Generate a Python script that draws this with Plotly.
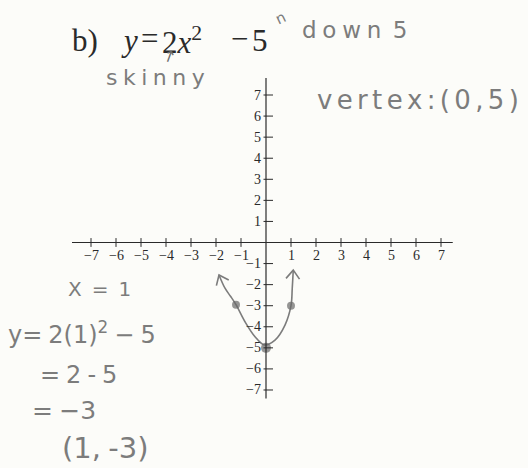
import math
import plotly.graph_objects as go

W, H = 528, 468

# Axis ticks and labels
x_ticks = [-7, -6, -5, -4, -3, -2, -1, 1, 2, 3, 4, 5, 6, 7]
y_ticks = [-7, -6, -5, -4, -3, -2, -1, 1, 2, 3, 4, 5, 6, 7]
x_tick_labels = ["−7", "−6", "−5", "−4", "−3", "−2", "−1", "1", "2", "3", "4", "5", "6", "7"]
y_tick_labels = ["−7", "−6", "−5", "−4", "−3", "−2", "−1", "1", "2", "3", "4", "5", "6", "7"]

# Sketched parabola y = 2x^2 - 5 (points along the hand-drawn curve)
curve_x = [-1.88, -1.64, -1.42, -1.2, -0.84, -0.44, -0.07, 0.36, 0.76, 1.0, 1.05, 1.09]
curve_y = [-1.54, -2.17, -2.55, -2.95, -3.76, -4.47, -4.86, -4.63, -3.92, -3.0, -2.17, -1.31]

# Plotted points
point_x = [-1.2, 0, 1]
point_y = [-2.95, -5, -3]

# Pixel mapping: origin and scale of the drawn axes
X0, Y0 = 266.0, 242.5
SX, SY = 25.0, 21.07
x_range = [-X0 / SX, (W - X0) / SX]
y_range = [-(H - Y0) / SY, Y0 / SY]

INK = "#2a2a2a"
PENCIL = "#7c7c7c"
SERIF = "Liberation Serif"
HAND = "DejaVu Sans"


def px(x):
    return x / W


def py(y):
    return 1 - y / H


def spaced(s, sp="\u2009"):
    return sp.join(list(s))


fig = go.Figure()

shapes = []
# x-axis and y-axis
shapes.append(dict(type="line", x0=-7.76, x1=7.47, y0=0, y1=0,
                   line=dict(color=INK, width=1.2)))
shapes.append(dict(type="line", x0=0, x1=0, y0=-7.4, y1=7.81,
                   line=dict(color=INK, width=1.2)))
for t in x_ticks:
    shapes.append(dict(type="line", x0=t, x1=t, y0=-0.21, y1=0.21,
                       line=dict(color=INK, width=1)))
for t in y_ticks:
    shapes.append(dict(type="line", x0=-0.1, x1=0.28, y0=t, y1=t,
                       line=dict(color=INK, width=1)))

annotations = []
for t, lab in zip(x_ticks, x_tick_labels):
    annotations.append(dict(x=t, y=0, text=lab, showarrow=False, yshift=-13,
                            xanchor="center", yanchor="middle",
                            font=dict(family=SERIF, size=14, color=INK)))
for t, lab in zip(y_ticks, y_tick_labels):
    annotations.append(dict(x=0, y=t, text=lab, showarrow=False, xshift=-3,
                            xanchor="right", yanchor="middle",
                            font=dict(family=SERIF, size=14, color=INK)))

# Curve
fig.add_trace(go.Scatter(x=curve_x, y=curve_y, mode="lines",
                         line=dict(color=PENCIL, width=1.6, shape="spline"),
                         hoverinfo="skip"))


# Open arrowheads at both ends of the curve, built in pixel space
def chevron(tip_i, prev_i, length=11, spread=math.radians(38)):
    tx, ty = curve_x[tip_i] * SX, curve_y[tip_i] * SY
    qx, qy = curve_x[prev_i] * SX, curve_y[prev_i] * SY
    ang = math.atan2(qy - ty, qx - tx)
    xs, ys = [], []
    for s in (-spread, spread):
        xs.append((tx + length * math.cos(ang + s)) / SX)
        ys.append((ty + length * math.sin(ang + s)) / SY)
    return [xs[0], curve_x[tip_i], xs[1]], [ys[0], curve_y[tip_i], ys[1]]


for tip, prev in ((0, 1), (len(curve_x) - 1, len(curve_x) - 2)):
    cx, cy = chevron(tip, prev)
    fig.add_trace(go.Scatter(x=cx, y=cy, mode="lines",
                             line=dict(color=PENCIL, width=1.6),
                             hoverinfo="skip"))

fig.add_trace(go.Scatter(x=point_x, y=point_y, mode="markers",
                         marker=dict(color="#6a6a6a", size=[8, 10, 8],
                                     line=dict(width=0)),
                         hoverinfo="skip"))


def txt(x, y, text, size, color=PENCIL, family=HAND, xanchor="left", angle=0):
    annotations.append(dict(x=px(x), y=py(y), xref="paper", yref="paper",
                            text=text, showarrow=False, xanchor=xanchor,
                            yanchor="middle", textangle=angle,
                            font=dict(family=family, size=size, color=color)))


# Printed equation
txt(70, 40, "b)", 31, INK, SERIF)
txt(119, 40, "<i>y</i>", 31, INK, SERIF)
txt(149, 38, "=", 31, INK, SERIF, "center")
txt(160, 40, "2<i>x</i><sup>2</sup>", 31, INK, SERIF)
txt(239, 38, "−", 31, INK, SERIF, "center")
txt(250, 40, "5", 31, INK, SERIF)

# Pencil notes
txt(169, 56, "↑", 16, "#6a6a6a", HAND, "center", 20)
txt(281, 18, "n", 15, PENCIL, HAND, "center", -25)
txt(300, 30, spaced("down", "\u2005") + "\u2002" + "5", 23)
txt(104, 78, spaced("skinny", "\u2005"), 22)
txt(315, 100, spaced("vertex:(0,5)", "\u2006"), 26)
txt(66, 289, "X\u2002=\u20021", 20)
txt(6, 333, "y=\u20052(1)<sup>2</sup>\u2005−\u20055", 24)
txt(38, 375, "=\u20052\u2005-\u20055", 24)
txt(30, 410, "=\u2005−3", 25)
txt(60, 448, "(1,\u2005-3)", 29)

fig.update_layout(
    width=W, height=H,
    margin=dict(l=0, r=0, t=0, b=0),
    paper_bgcolor="#fcfcf9", plot_bgcolor="#fcfcf9",
    showlegend=False,
    xaxis=dict(range=x_range, visible=False, fixedrange=True),
    yaxis=dict(range=y_range, visible=False, fixedrange=True),
    shapes=shapes,
    annotations=annotations,
)

fig.write_html("out.html")
